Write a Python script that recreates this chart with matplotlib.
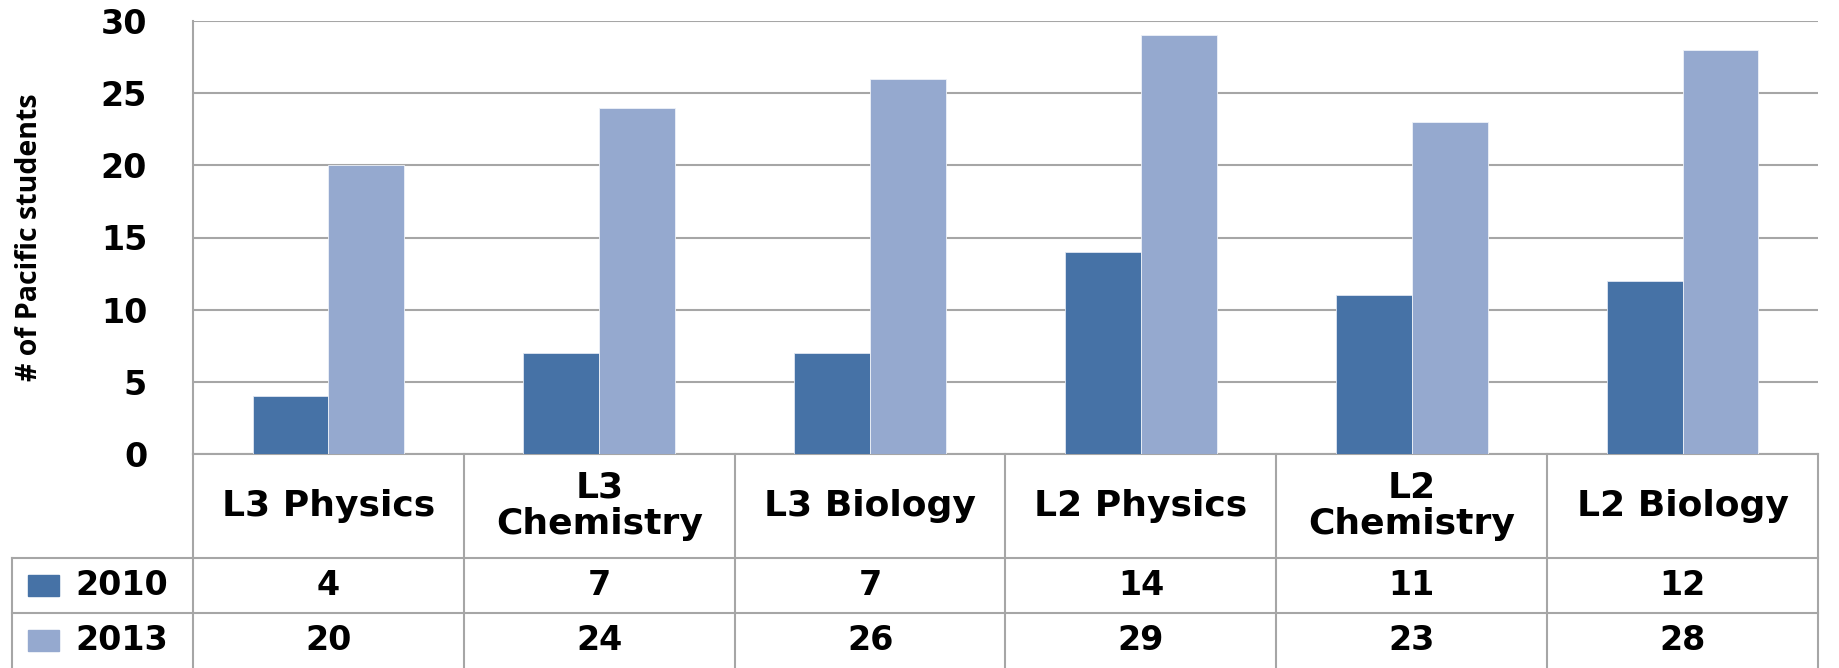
import matplotlib
matplotlib.use("Agg")
from matplotlib import pyplot as plt
from matplotlib.transforms import blended_transform_factory
from matplotlib.patches import Rectangle
import numpy as np

# data
categories = ["L3 Physics", "L3\nChemistry", "L3 Biology", "L2 Physics", "L2\nChemistry", "L2 Biology"]
years = ["2010", "2013"]
vals_2010 = [4, 7, 7, 14, 11, 12]
vals_2013 = [20, 24, 26, 29, 23, 28]
colors = ["#4672A6", "#95A9CF"]

plt.rcParams['font.family'] = ['DejaVu Sans']
W, H = 1839, 668
fig = plt.figure(figsize=(W / 100, H / 100), dpi=100)
ax = fig.add_axes([193 / W, 1 - 454 / H, (1818 - 193) / W, (454 - 21) / H])

x = np.arange(len(categories))
bw = 0.28
ax.bar(x - bw / 2, vals_2010, bw, color=colors[0], edgecolor="#dfe6f2", linewidth=0.6, zorder=3)
ax.bar(x + bw / 2, vals_2013, bw, color=colors[1], edgecolor="#eef2f8", linewidth=0.6, zorder=3)

ax.set_xlim(-0.5, len(categories) - 0.5)
ax.set_ylim(0, 30)
ax.set_yticks(range(0, 31, 5))
ax.yaxis.grid(True, color="#a6a6a6", linewidth=1.5, zorder=0)
ax.set_xticks([])
ax.tick_params(axis="y", length=0, pad=33, labelsize=24)
for lab in ax.get_yticklabels():
    lab.set_fontweight("bold")
for s in ["top", "right", "bottom"]:
    ax.spines[s].set_visible(False)
ax.spines["left"].set_color("#a6a6a6")
ax.spines["left"].set_linewidth(1.5)

fig.text(30 / W, 1 - 237 / H, "# of Pacific students", rotation=90, ha="center", va="center",
         fontsize=20.5, fontweight="bold", family="Open Sans")

# data table under the axes
tr = blended_transform_factory(ax.transData, fig.transFigure)
lc = "#a6a6a6"
def fy(py):
    return 1 - py / H

y_top, y_r1, y_r2, y_bot = fy(454), fy(558), fy(613), fy(668)
x_left_fig = 12 / W
x0 = -0.5
x1 = len(categories) - 0.5

# horizontal lines
ax.plot([x0, x1], [y_top, y_top], transform=tr, color=lc, lw=1.5, clip_on=False)
for yy in [y_r1, y_r2]:
    fig.add_artist(plt.Line2D([x_left_fig, 1818 / W], [yy, yy], color=lc, lw=1.5))
# vertical lines
for i in range(len(categories) + 1):
    ax.plot([i - 0.5, i - 0.5], [y_top, y_bot], transform=tr, color=lc, lw=1.5, clip_on=False)
fig.add_artist(plt.Line2D([x_left_fig, x_left_fig], [y_r1, y_bot], color=lc, lw=1.5))

# category labels
for i, c in enumerate(categories):
    ax.text(i, (y_top + y_r1) / 2, c, transform=tr, ha="center", va="center",
            fontsize=26, fontweight="bold", linespacing=1.1)

# value rows
for row, (vals, yc) in enumerate([(vals_2010, (y_r1 + y_r2) / 2), (vals_2013, (y_r2 + y_bot) / 2)]):
    for i, v in enumerate(vals):
        ax.text(i, yc, str(v), transform=tr, ha="center", va="center",
                fontsize=24, fontweight="bold")
    fig.add_artist(Rectangle((28 / W, yc - 10.5 / H), 31 / W, 21 / H,
                             transform=fig.transFigure, color=colors[row]))
    fig.text(75 / W, yc, years[row], ha="left", va="center", fontsize=24, fontweight="bold")

fig.savefig("out.png", dpi=100)
